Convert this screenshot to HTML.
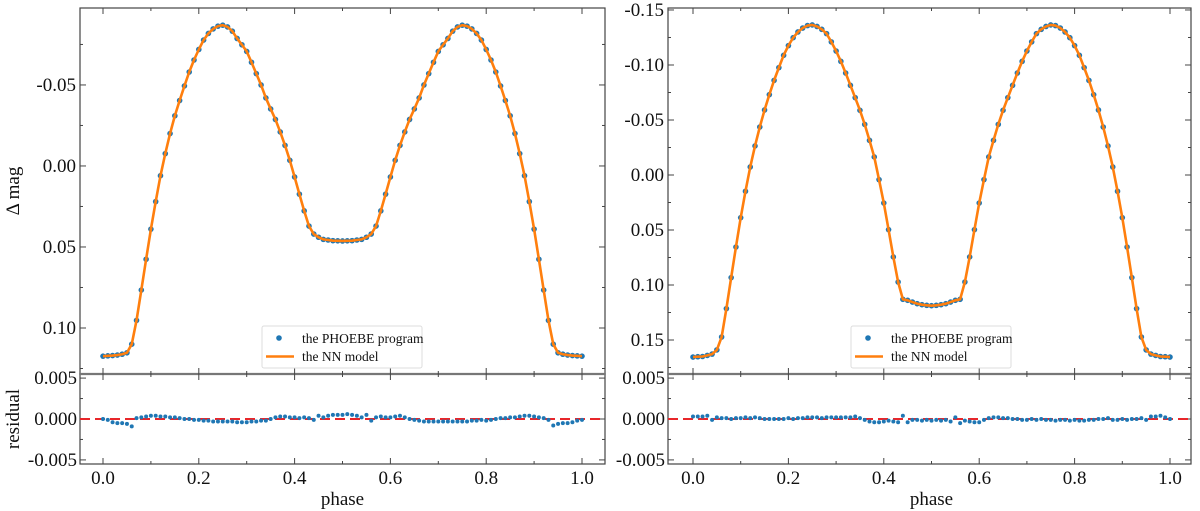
<!DOCTYPE html>
<html><head><meta charset="utf-8">
<style>
html,body{margin:0;padding:0;background:#fff;}
svg{display:block;font-family:"Liberation Serif","DejaVu Serif",serif;}
</style></head>
<body>
<svg id="fig" width="1200" height="511" viewBox="0 0 1200 511" xmlns="http://www.w3.org/2000/svg"></svg>
<script>
// phases 0.00..1.00 step 0.01
const phases = [];
for (let i = 0; i <= 100; i++) phases.push(i / 100);

const leftMag = [0.1174,0.1172,0.1170,0.1167,0.1162,0.1153,0.1100,0.0953,0.0766,0.0576,0.0390,0.0220,0.0060,-0.0076,-0.0200,-0.0310,-0.0404,-0.0494,-0.0580,-0.0654,-0.0719,-0.0777,-0.0818,-0.0846,-0.0863,-0.0869,-0.0858,-0.0832,-0.0787,-0.0748,-0.0707,-0.0640,-0.0570,-0.0500,-0.0420,-0.0352,-0.0287,-0.0210,-0.0127,-0.0035,0.0068,0.0174,0.0277,0.0371,0.0420,0.0440,0.0453,0.0457,0.0461,0.0462,0.0463,0.0462,0.0461,0.0457,0.0453,0.0440,0.0420,0.0371,0.0277,0.0174,0.0068,-0.0035,-0.0127,-0.0210,-0.0287,-0.0352,-0.0420,-0.0500,-0.0570,-0.0640,-0.0707,-0.0748,-0.0787,-0.0832,-0.0858,-0.0869,-0.0863,-0.0846,-0.0818,-0.0777,-0.0719,-0.0654,-0.0580,-0.0494,-0.0404,-0.0310,-0.0200,-0.0076,0.0060,0.0220,0.0390,0.0576,0.0766,0.0953,0.1100,0.1153,0.1162,0.1167,0.1170,0.1172,0.1174];

const rightMag = [0.1655,0.1652,0.1650,0.1640,0.1628,0.1590,0.1473,0.1215,0.0933,0.0655,0.0388,0.0148,-0.0073,-0.0264,-0.0436,-0.0591,-0.0730,-0.0860,-0.0976,-0.1088,-0.1176,-0.1248,-0.1300,-0.1336,-0.1358,-0.1364,-0.1350,-0.1324,-0.1285,-0.1210,-0.1127,-0.1033,-0.0927,-0.0815,-0.0703,-0.0588,-0.0460,-0.0315,-0.0164,0.0042,0.0255,0.0497,0.0745,0.0973,0.1130,0.1139,0.1155,0.1170,0.1179,0.1185,0.1188,0.1185,0.1179,0.1170,0.1155,0.1139,0.1130,0.0973,0.0745,0.0497,0.0255,0.0042,-0.0164,-0.0315,-0.0460,-0.0588,-0.0703,-0.0815,-0.0927,-0.1033,-0.1127,-0.1210,-0.1285,-0.1324,-0.1350,-0.1364,-0.1358,-0.1336,-0.1300,-0.1248,-0.1176,-0.1088,-0.0976,-0.0860,-0.0730,-0.0591,-0.0436,-0.0264,-0.0073,0.0148,0.0388,0.0655,0.0933,0.1215,0.1473,0.1590,0.1628,0.1640,0.1650,0.1652,0.1655];

const leftRes = [0,-0.0001,-0.0004,-0.0005,-0.0005,-0.0006,-0.0009,0.0001,0.0002,0.0003,0.0004,0.0004,0.0003,0.0003,0.0002,0.0002,0.0001,0,0,-0.0001,-0.0001,-0.0002,-0.0002,-0.0003,-0.0003,-0.0003,-0.0003,-0.0003,-0.0004,-0.0004,-0.0004,-0.0003,-0.0003,-0.0002,-0.0002,0,0.0002,0.0003,0.0003,0.0002,0.0002,0.0001,0.0002,0.0001,-0.0001,0.0004,0.0002,0.0004,0.0005,0.0005,0.0005,0.0006,0.0005,0.0004,0.0002,0.0005,-0.0002,0.0002,0.0003,0.0002,0.0002,0.0003,0.0004,0.0002,0,-0.0001,-0.0002,-0.0003,-0.0003,-0.0003,-0.0003,-0.0003,-0.0003,-0.0003,-0.0003,-0.0003,-0.0003,-0.0002,-0.0002,-0.0001,-0.0002,-0.0001,0,0.0001,0.0001,0.0002,0.0002,0.0003,0.0004,0.0004,0.0003,0.0002,0.0001,-0.0001,-0.0008,-0.0006,-0.0005,-0.0005,-0.0004,-0.0002,-0.0001];

const rightRes = [0.0003,0.0003,0.0003,0.0004,-0.0001,0.0002,0.0001,0.0001,0,0.0001,0.0001,0.0002,0.0001,0.0002,0.0001,0,0,0,0,0,0.0001,0,0.0001,0.0001,0.0002,0.0002,0.0002,0.0001,0.0002,0.0002,0.0002,0.0002,0.0002,0.0002,0.0003,0.0001,-0.0001,-0.0003,-0.0004,-0.0004,-0.0003,-0.0002,-0.0003,-0.0004,0.0004,-0.0004,-0.0001,-0.0001,-0.0002,-0.0001,-0.0002,-0.0001,-0.0002,-0.0001,-0.0003,0.0002,-0.0005,-0.0002,-0.0003,-0.0004,-0.0004,-0.0001,0.0001,0.0002,0.0002,0.0001,0.0001,0,0,-0.0001,-0.0001,0,-0.0001,0,-0.0001,-0.0001,-0.0002,-0.0001,-0.0001,-0.0002,-0.0001,-0.0002,-0.0002,-0.0001,-0.0001,0,0,0.0001,-0.0001,-0.0001,0,-0.0001,0,0,0.0001,-0.0001,0.0003,0.0003,0.0004,0.0002,0];

const xTicks = [0.0,0.2,0.4,0.6,0.8,1.0];
const xTickLabels = ["0.0","0.2","0.4","0.6","0.8","1.0"];
const leftYTicks = [-0.05,0.00,0.05,0.10];
const leftYTickLabels = ["-0.05","0.00","0.05","0.10"];
const rightYTicks = [-0.15,-0.10,-0.05,0.00,0.05,0.10,0.15];
const rightYTickLabels = ["-0.15","-0.10","-0.05","0.00","0.05","0.10","0.15"];
const resTicks = [0.005,0.000,-0.005];
const resTickLabels = ["0.005","0.000","-0.005"];

const NS = "http://www.w3.org/2000/svg";
const svg = document.getElementById("fig");
function mk(tag, attrs, parent) {
  const e = document.createElementNS(NS, tag);
  for (const k in attrs) e.setAttribute(k, attrs[k]);
  (parent || svg).appendChild(e);
  return e;
}

function panel(cfg) {
  const g = mk("g", {});
  
  
  const L = cfg.left, R = cfg.right, T = 8, M = 374, B = 464;
  const xs = v => cfg.x0 + v * (cfg.x1 - cfg.x0);
  const ys = v => T + (v - cfg.yMin) / (cfg.yMax - cfg.yMin) * (M - T);
  const rs = v => M + (0.0055 - v) / 0.011 * (B - M);

  const f1 = mk("rect", {x:L, y:T, width:R-L, height:M-T, fill:"none", stroke:"#444", "stroke-width":1.2}, g);
  
  
  const f2 = mk("rect", {x:L, y:M, width:R-L, height:B-M, fill:"none", stroke:"#444", "stroke-width":1.2}, g);
  
  
  mk("line", {x1:L, x2:R, y1:M, y2:M, stroke:"#777", "stroke-width":2.2}, g);

  for (let t = 0; t <= 10; t++) {
    const v = t / 10, x = xs(v), len = (t % 2 === 0) ? 6 : 3;
    [[T, 1],[M, -1],[M, 1],[B, -1]].forEach(([y0, d]) => {
      mk("line", {x1:x, x2:x, y1:y0, y2:y0 + d*len, stroke:"#444", "stroke-width":1}, g);
    });
  }
  xTicks.forEach((v, i) => {
    const t = mk("text", {x:xs(v), y:484, "font-size":19, "text-anchor":"middle", fill:"#111"}, g);
    t.textContent = xTickLabels[i];
    
    
  });
  const xl = mk("text", {x:(cfg.x0+cfg.x1)/2, y:505, "font-size":19, "text-anchor":"middle", fill:"#111"}, g);
  xl.textContent = "phase";
  
  

  for (let v = -0.2; v <= 0.2001; v += 0.025) {
    const y = ys(v);
    if (y < T + 0.5 || y > M - 0.5) continue;
    const major = Math.abs(Math.round(v / 0.05) * 0.05 - v) < 1e-6;
    const len = major ? 6 : 3;
    mk("line", {x1:L, x2:L+len, y1:y, y2:y, stroke:"#444", "stroke-width":1}, g);
    mk("line", {x1:R, x2:R-len, y1:y, y2:y, stroke:"#444", "stroke-width":1}, g);
  }
  cfg.yTicks.forEach((v, i) => {
    const t = mk("text", {x:L-4, y:ys(v)+6, "font-size":19, "text-anchor":"end", fill:"#111"}, g);
    t.textContent = cfg.yLabels[i];
    
    
  });
  [0.005,0.0025,0,-0.0025,-0.005].forEach(v => {
    const y = rs(v), len = (v === 0.0025 || v === -0.0025) ? 3 : 6;
    mk("line", {x1:L, x2:L+len, y1:y, y2:y, stroke:"#444", "stroke-width":1}, g);
    mk("line", {x1:R, x2:R-len, y1:y, y2:y, stroke:"#444", "stroke-width":1}, g);
  });
  resTicks.forEach((v, i) => {
    const t = mk("text", {x:L-3, y:rs(v)+6, "font-size":19, "text-anchor":"end", fill:"#111"}, g);
    t.textContent = resTickLabels[i];
    
    
  });
  if (cfg.titles) {
    const yl = mk("text", {x:0, y:0, "font-size":19, "text-anchor":"middle", fill:"#111", transform:`translate(19,${(T+M)/2}) rotate(-90)`}, g);
    yl.textContent = "Δ mag";
    
    
    const rl = mk("text", {x:0, y:0, "font-size":19, "text-anchor":"middle", fill:"#111", transform:`translate(19,${(M+B)/2}) rotate(-90)`}, g);
    rl.textContent = "residual";
    
    
  }

  phases.forEach((p, i) => {
    const c = mk("circle", {cx:xs(p), cy:ys(cfg.mag[i]), r:2.8, fill:"#1f77b4"}, g);
    
    
  });
  const pts = phases.map((p, i) => xs(p).toFixed(2) + "," + ys(cfg.mag[i]).toFixed(2)).join(" ");
  const line = mk("polyline", {points:pts, fill:"none", stroke:"#ff7f0e", "stroke-width":2.6, "stroke-linejoin":"round"}, g);
  
  

  const zl = mk("line", {x1:L, x2:R, y1:rs(0), y2:rs(0), stroke:"#e8262a", "stroke-width":2, "stroke-dasharray":"10,5"}, g);
  
  
  phases.forEach((p, i) => {
    const c = mk("circle", {cx:xs(p), cy:rs(cfg.res[i]), r:2, fill:"#1f77b4"}, g);
    
    
  });

  const lx = cfg.legendX, ly = 326;
  const lg = mk("g", {}, g);
  
  
  mk("rect", {x:lx, y:ly, width:160, height:42, rx:2, fill:"#fff", "fill-opacity":0.85, stroke:"#ddd", "stroke-width":1}, lg);
  const lc = mk("circle", {cx:lx+17, cy:ly+12, r:2.8, fill:"#1f77b4"}, lg);
  
  
  const t1 = mk("text", {x:lx+40, y:ly+17, "font-size":13.5, fill:"#111"}, lg);
  t1.textContent = "the PHOEBE program";
  
  
  mk("line", {x1:lx+4, x2:lx+32, y1:ly+30.5, y2:ly+30.5, stroke:"#ff7f0e", "stroke-width":2.6}, lg);
  const t2 = mk("text", {x:lx+40, y:ly+35, "font-size":13.5, fill:"#111"}, lg);
  t2.textContent = "the NN model";
  
  
}

panel({name:"left-panel", left:80, right:605, x0:103, x1:582, yMin:-0.0975, yMax:0.1284, yTicks:leftYTicks, yLabels:leftYTickLabels, mag:leftMag, res:leftRes, legendX:262, titles:true});
panel({name:"right-panel", left:668, right:1191, x0:693, x1:1170, yMin:-0.1518, yMax:0.1809, yTicks:rightYTicks, yLabels:rightYTickLabels, mag:rightMag, res:rightRes, legendX:851, titles:false});
</script>
</body></html>
